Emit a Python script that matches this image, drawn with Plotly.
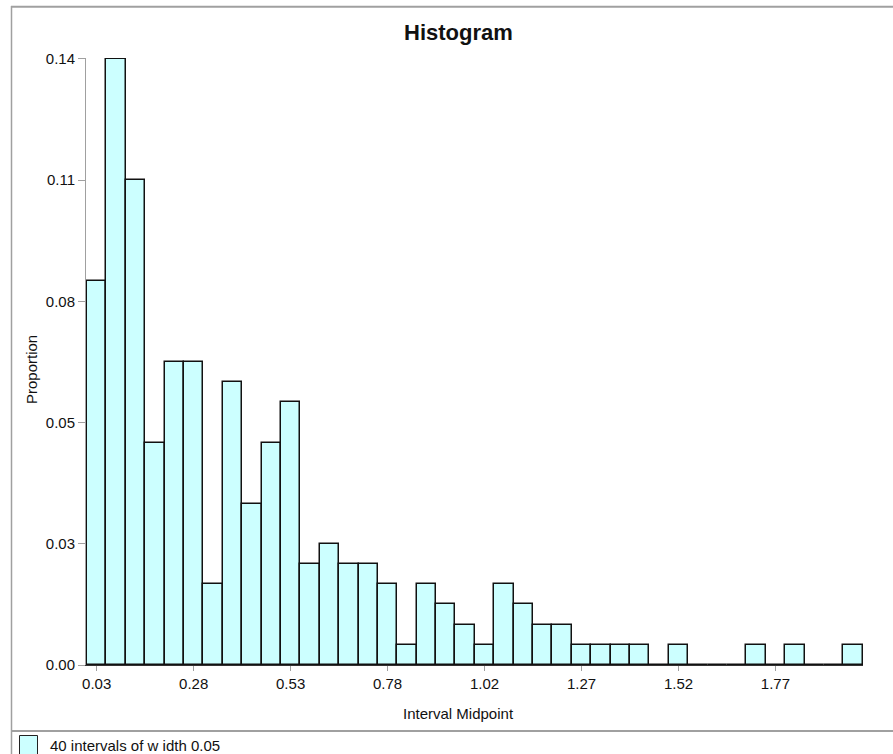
import plotly.graph_objects as go

# ---- data ----
midpoints = [0.025, 0.075, 0.125, 0.175, 0.225, 0.275, 0.325, 0.375, 0.425, 0.475,
             0.525, 0.575, 0.625, 0.675, 0.725, 0.775, 0.825, 0.875, 0.925, 0.975,
             1.025, 1.075, 1.125, 1.175, 1.225, 1.275, 1.325, 1.375, 1.425, 1.475,
             1.525, 1.575, 1.625, 1.675, 1.725, 1.775, 1.825, 1.875, 1.925, 1.975]
proportion = [0.0868, 0.1370, 0.1096, 0.0502, 0.0685, 0.0685, 0.0183, 0.0639, 0.0365, 0.0502,
              0.0594, 0.0228, 0.0274, 0.0228, 0.0228, 0.0183, 0.0046, 0.0183, 0.0137, 0.0091,
              0.0046, 0.0183, 0.0137, 0.0091, 0.0091, 0.0046, 0.0046, 0.0046, 0.0046, 0.0,
              0.0046, 0.0, 0.0, 0.0, 0.0046, 0.0, 0.0046, 0.0, 0.0, 0.0046]
x_tick_vals = [0.025, 0.275, 0.525, 0.775, 1.025, 1.275, 1.525, 1.775]
x_tick_text = ["0.03", "0.28", "0.53", "0.78", "1.02", "1.27", "1.52", "1.77"]
y_tick_vals = [0.0, 0.0274, 0.0548, 0.0822, 0.1096, 0.1370]
y_tick_text = ["0.00", "0.03", "0.05", "0.08", "0.11", "0.14"]
bin_width = 0.05
title_text = "Histogram"
x_title = "Interval Midpoint"
y_title = "Proportion"
legend_text = "40 intervals of w idth 0.05"

W, H = 893, 754
L, R, T, B = 86, 30, 58, 89
FONT = "Liberation Sans, Arial, Helvetica, sans-serif"
FILL = "#CCFFFF"

pw = W - L - R
ph = H - T - B


def px(xp):
    return (xp - L) / pw


def py(yp):
    return (H - B - yp) / ph


fig = go.Figure()
fig.add_trace(go.Bar(
    x=midpoints, y=proportion, width=[bin_width] * len(midpoints),
    marker=dict(color=FILL, line=dict(color="#111111", width=1.5)),
    showlegend=False, hoverinfo="x+y",
))

fig.update_layout(
    width=W, height=H,
    margin=dict(l=L, r=R, t=T, b=B, pad=0),
    paper_bgcolor="white", plot_bgcolor="white",
    font=dict(family=FONT, size=15, color="#111111"),
    bargap=0,
    xaxis=dict(range=[-0.0026, 2.0008], showgrid=False, zeroline=False,
               showline=True, linecolor="#333333", linewidth=1,
               ticks="outside", ticklen=5, tickcolor="#A0A0A0", tickwidth=1,
               tickvals=x_tick_vals, ticktext=x_tick_text,
               tickfont=dict(size=15, family=FONT, color="#111111")),
    yaxis=dict(range=[0, 0.13722], showgrid=False, zeroline=False,
               showline=True, linecolor="#A0A0A0", linewidth=1,
               ticks="outside", ticklen=7, tickcolor="#A0A0A0", tickwidth=1,
               tickvals=y_tick_vals, ticktext=y_tick_text,
               tickfont=dict(size=15, family=FONT, color="#111111")),
)

shapes = [
    # top frame line
    dict(type="line", xref="paper", yref="paper", x0=px(11), x1=px(893), y0=py(6.7), y1=py(6.7),
         line=dict(color="#A0A0A0", width=2)),
    # left frame line
    dict(type="line", xref="paper", yref="paper", x0=px(11.5), x1=px(11.5), y0=py(6), y1=py(754),
         line=dict(color="#A0A0A0", width=1.5)),
    # separator line above legend
    dict(type="line", xref="paper", yref="paper", x0=px(11), x1=px(893), y0=py(731), y1=py(731),
         line=dict(color="#A0A0A0", width=2)),
    # legend swatch
    dict(type="rect", xref="paper", yref="paper", x0=px(19.5), x1=px(37.5), y0=py(735.5), y1=py(758),
         fillcolor=FILL, line=dict(color="#222222", width=1)),
]

annotations = [
    dict(text="<b>" + title_text + "</b>", xref="paper", yref="paper", x=px(458.5), y=py(32),
         xanchor="center", yanchor="middle", showarrow=False,
         font=dict(family=FONT, size=22, color="#111111")),
    dict(text=x_title, xref="paper", yref="paper", x=px(458.5), y=py(713),
         xanchor="center", yanchor="middle", showarrow=False,
         font=dict(family=FONT, size=15, color="#111111")),
    dict(text=y_title, xref="paper", yref="paper", x=px(31), y=py(369), textangle=-90,
         xanchor="center", yanchor="middle", showarrow=False,
         font=dict(family=FONT, size=15, color="#111111")),
    dict(text=legend_text, xref="paper", yref="paper", x=px(48), y=py(745),
         xanchor="left", yanchor="middle", showarrow=False,
         font=dict(family=FONT, size=15, color="#111111")),
]

fig.update_layout(shapes=shapes, annotations=annotations)
fig.write_html(
    "out.html",
    config={"displayModeBar": False},
    post_script="document.body.style.margin='0';document.body.style.padding='0';"
                "document.body.style.overflow='hidden';",
)
